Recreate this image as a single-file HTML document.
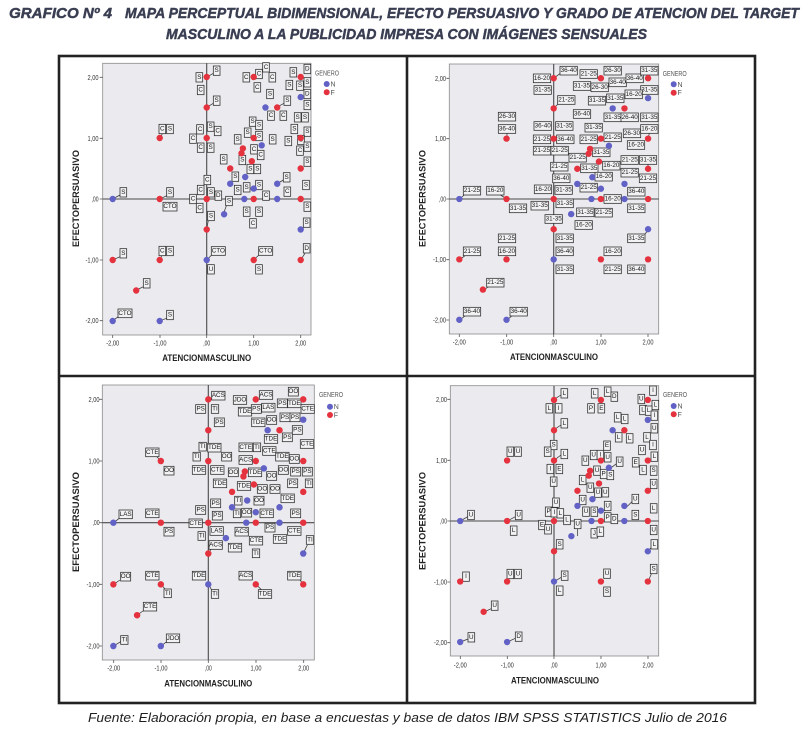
<!DOCTYPE html>
<html><head><meta charset="utf-8">
<style>
html,body{margin:0;padding:0;background:#fff;}
svg{display:block}
.lb text{font-family:"Liberation Sans",sans-serif;font-size:19px;fill:#1a1a1a;text-anchor:middle;dominant-baseline:central}
.tk{font-family:"Liberation Sans",sans-serif;font-size:7px;fill:#333}
.tkx{font-family:"Liberation Sans",sans-serif;font-size:7px;fill:#333;text-anchor:middle}
.tky{font-family:"Liberation Sans",sans-serif;font-size:7px;fill:#333;text-anchor:end}
.ax{font-family:"Liberation Sans",sans-serif;font-size:9px;font-weight:bold;fill:#222;text-anchor:middle}
.lg{font-family:"Liberation Sans",sans-serif;font-size:7px;fill:#555}
.ttl{font-family:"Liberation Sans",sans-serif;font-size:14.5px;font-weight:bold;font-style:italic;fill:#3a3e52;stroke:#3a3e52;stroke-width:0.45}
.pl{fill:#ebebef;stroke:#8a8a8a;stroke-width:0.8}
.ref{stroke:#4a4a4a;stroke-width:1.1;fill:none}
.tm{stroke:#555;stroke-width:0.8;fill:none}
.ld{stroke:#333;stroke-width:2.2;fill:none}
</style></head><body>
<svg width="807" height="741" viewBox="0 0 807 741" xmlns="http://www.w3.org/2000/svg" xmlns:xlink="http://www.w3.org/1999/xlink">
<defs>
<rect id="a" x="-10" y="-14" width="20" height="28" fill="#f2f2f4" stroke="#333" stroke-width="2.4"/>
<rect id="i" x="-11" y="-13" width="22" height="26" fill="#f2f2f4" stroke="#333" stroke-width="2.4"/>
<rect id="d" x="-15" y="-13" width="30" height="26" fill="#f2f2f4" stroke="#333" stroke-width="2.4"/>
<rect id="t" x="-20" y="-13" width="40" height="26" fill="#f2f2f4" stroke="#333" stroke-width="2.4"/>
<rect id="c" x="-21" y="-13" width="42" height="26" fill="#f2f2f4" stroke="#333" stroke-width="2.4"/>
<rect id="e" x="-26" y="-13" width="52" height="26" fill="#f2f2f4" stroke="#333" stroke-width="2.4"/>
<g id="pts">
<g fill="#6262c6">
<circle cx="-94" cy="0" r="3.2"/><circle cx="-94" cy="122" r="3.2"/><circle cx="-47" cy="122" r="3.2"/><circle cx="0" cy="61" r="3.2"/>
<circle cx="58.75" cy="-91.5" r="3.2"/><circle cx="94" cy="-101.9" r="3.2"/><circle cx="55" cy="-53.7" r="3.2"/><circle cx="38.5" cy="-22" r="3.2"/>
<circle cx="23.5" cy="-15.25" r="3.2"/><circle cx="47" cy="-10.4" r="3.2"/><circle cx="70.5" cy="-15.25" r="3.2"/><circle cx="17.4" cy="15.25" r="3.2"/>
<circle cx="37.6" cy="0" r="3.2"/><circle cx="70.5" cy="0" r="3.2"/><circle cx="94" cy="30.5" r="3.2"/>
</g>
<g fill="#e4323e">
<circle cx="-47" cy="0" r="3.2"/><circle cx="-47" cy="-61" r="3.2"/><circle cx="-94" cy="61" r="3.2"/><circle cx="-47" cy="61" r="3.2"/>
<circle cx="-70.5" cy="91.5" r="3.2"/><circle cx="0" cy="-122" r="3.2"/><circle cx="0" cy="-91.5" r="3.2"/><circle cx="0" cy="-61" r="3.2"/>
<circle cx="0" cy="0" r="3.2"/><circle cx="0" cy="30.5" r="3.2"/><circle cx="47" cy="-122" r="3.2"/><circle cx="70.5" cy="-91.5" r="3.2"/>
<circle cx="94" cy="-122" r="3.2"/><circle cx="47" cy="-61" r="3.2"/><circle cx="36.2" cy="-50.6" r="3.2"/><circle cx="34.8" cy="-45.75" r="3.2"/>
<circle cx="45.1" cy="-37.8" r="3.2"/><circle cx="23.5" cy="-30.5" r="3.2"/><circle cx="47" cy="0" r="3.2"/><circle cx="94" cy="0" r="3.2"/>
<circle cx="94" cy="-61" r="3.2"/><circle cx="94" cy="-30.5" r="3.2"/><circle cx="94" cy="61" r="3.2"/><circle cx="47" cy="61" r="3.2"/>
</g>
</g>
</defs>

<rect width="807" height="741" fill="#fff"/>

<!-- Title -->
<text class="ttl" x="9" y="18" textLength="103" lengthAdjust="spacingAndGlyphs">GRAFICO Nº 4</text>
<text class="ttl" x="125" y="18" textLength="674" lengthAdjust="spacingAndGlyphs">MAPA PERCEPTUAL BIDIMENSIONAL, EFECTO PERSUASIVO Y GRADO DE ATENCION DEL TARGET</text>
<text class="ttl" x="166" y="39" textLength="481" lengthAdjust="spacingAndGlyphs">MASCULINO A LA PUBLICIDAD IMPRESA CON IMÁGENES SENSUALES</text>

<!-- Frame -->
<rect x="59" y="56" width="696" height="647" fill="none" stroke="#222" stroke-width="2.6"/>
<line x1="407" y1="56" x2="407" y2="703" stroke="#222" stroke-width="2.6"/>
<line x1="59" y1="376" x2="755" y2="376" stroke="#222" stroke-width="2.6"/>

<!-- ================= PANEL 1 ================= -->
<rect class="pl" x="102.7" y="63.3" width="208.3" height="271.7"/>
<path class="ref" d="M206.7 63.3V335M102.7 199H311"/>
<path class="tm" d="M99.7 77.3h3M99.7 138.3h3M99.7 199h3M99.7 260h3M99.7 320.7h3M112.7 335v3M160 335v3M206.7 335v3M253.7 335v3M300.7 335v3"/>
<text class="tky" x="98.5" y="79.8" textLength="11" lengthAdjust="spacingAndGlyphs">2,00</text>
<text class="tky" x="98.5" y="140.8" textLength="11" lengthAdjust="spacingAndGlyphs">1,00</text>
<text class="tky" x="98.5" y="201.5" textLength="7" lengthAdjust="spacingAndGlyphs">,00</text>
<text class="tky" x="98.5" y="262.5" textLength="13" lengthAdjust="spacingAndGlyphs">-1,00</text>
<text class="tky" x="98.5" y="323.2" textLength="13" lengthAdjust="spacingAndGlyphs">-2,00</text>
<text class="tkx" x="112.7" y="345.5" textLength="13" lengthAdjust="spacingAndGlyphs">-2,00</text>
<text class="tkx" x="160" y="345.5" textLength="13" lengthAdjust="spacingAndGlyphs">-1,00</text>
<text class="tkx" x="206.7" y="345.5" textLength="7" lengthAdjust="spacingAndGlyphs">,00</text>
<text class="tkx" x="253.7" y="345.5" textLength="11" lengthAdjust="spacingAndGlyphs">1,00</text>
<text class="tkx" x="300.7" y="345.5" textLength="11" lengthAdjust="spacingAndGlyphs">2,00</text>
<text class="ax" x="206.7" y="361" textLength="89" lengthAdjust="spacingAndGlyphs">ATENCIONMASCULINO</text>
<text class="ax" transform="translate(79,198.5) rotate(-90)" x="0" y="0" textLength="97" lengthAdjust="spacingAndGlyphs">EFECTOPERSUASIVO</text>
<text class="lg" x="315" y="75.5" textLength="24" lengthAdjust="spacingAndGlyphs">GENERO</text>
<circle cx="326.7" cy="84" r="3" fill="#6262c6"/><text class="lg" x="330.5" y="86.5">N</text>
<circle cx="326.7" cy="92.3" r="3" fill="#e4323e"/><text class="lg" x="330.5" y="94.8">F</text>

<g class="lb" transform="translate(55,50) scale(0.33333)">
<path class="ld" d="M173 447L195 435M315 447L335 437M315 265L322 251M173 630L195 620M315 630L320 617M245 720L265 710M173 812L190 800M315 812L335 805M455 82L475 70M455 172L475 160M455 540L460 510M455 630L470 615M595 630L612 615M737 630L750 610M665 402L685 390M665 172L687 160M505 492L515 465M737 540L747 530"/>
<use href="#a" x="205" y="427"/><text x="205" y="427">S</text>
<use href="#a" x="345" y="427"/><text x="345" y="427">S</text>
<use href="#a" x="322" y="237"/><text x="322" y="237">C</text>
<use href="#a" x="345" y="237"/><text x="345" y="237">S</text>
<use href="#a" x="205" y="610"/><text x="205" y="610">S</text>
<use href="#a" x="322" y="603"/><text x="322" y="603">C</text>
<use href="#a" x="345" y="603"/><text x="345" y="603">S</text>
<use href="#a" x="275" y="700"/><text x="275" y="700">S</text>
<use href="#a" x="345" y="795"/><text x="345" y="795">S</text>
<use href="#a" x="485" y="62"/><text x="485" y="62">S</text>
<use href="#a" x="433" y="82"/><text x="433" y="82">S</text>
<use href="#a" x="437" y="120"/><text x="437" y="120">C</text>
<use href="#a" x="485" y="152"/><text x="485" y="152">S</text>
<use href="#a" x="435" y="238"/><text x="435" y="238">C</text>
<use href="#a" x="467" y="230"/><text x="467" y="230">S</text>
<use href="#a" x="488" y="243"/><text x="488" y="243">C</text>
<use href="#a" x="414" y="266"/><text x="414" y="266">C</text>
<use href="#a" x="437" y="293"/><text x="437" y="293">C</text>
<use href="#a" x="467" y="293"/><text x="467" y="293">S</text>
<use href="#a" x="457" y="390"/><text x="457" y="390">C</text>
<use href="#a" x="437" y="420"/><text x="437" y="420">C</text>
<use href="#a" x="468" y="427"/><text x="468" y="427">S</text>
<use href="#a" x="490" y="437"/><text x="490" y="437">D</text>
<use href="#a" x="414" y="447"/><text x="414" y="447">C</text>
<use href="#a" x="434" y="474"/><text x="434" y="474">C</text>
<use href="#a" x="468" y="498"/><text x="468" y="498">S</text>
<use href="#a" x="468" y="658"/><text x="468" y="658">U</text>
<use href="#a" x="574" y="82"/><text x="574" y="82">C</text>
<use href="#a" x="612" y="72"/><text x="612" y="72">C</text>
<use href="#a" x="633" y="52"/><text x="633" y="52">C</text>
<use href="#a" x="652" y="82"/><text x="652" y="82">C</text>
<use href="#a" x="607" y="112"/><text x="607" y="112">C</text>
<use href="#a" x="645" y="132"/><text x="645" y="132">S</text>
<use href="#a" x="697" y="152"/><text x="697" y="152">S</text>
<use href="#a" x="648" y="197"/><text x="648" y="197">C</text>
<use href="#a" x="685" y="197"/><text x="685" y="197">C</text>
<use href="#a" x="715" y="67"/><text x="715" y="67">S</text>
<use href="#a" x="757" y="57"/><text x="757" y="57">D</text>
<use href="#a" x="757" y="97"/><text x="757" y="97">S</text>
<use href="#a" x="703" y="105"/><text x="703" y="105">S</text>
<use href="#a" x="735" y="107"/><text x="735" y="107">S</text>
<use href="#a" x="757" y="132"/><text x="757" y="132">D</text>
<use href="#a" x="757" y="165"/><text x="757" y="165">S</text>
<use href="#a" x="728" y="202"/><text x="728" y="202">S</text>
<use href="#a" x="750" y="202"/><text x="750" y="202">S</text>
<use href="#a" x="593" y="215"/><text x="593" y="215">S</text>
<use href="#a" x="612" y="225"/><text x="612" y="225">S</text>
<use href="#a" x="578" y="248"/><text x="578" y="248">S</text>
<use href="#a" x="612" y="258"/><text x="612" y="258">S</text>
<use href="#a" x="548" y="268"/><text x="548" y="268">S</text>
<use href="#a" x="653" y="268"/><text x="653" y="268">S</text>
<use href="#a" x="597" y="298"/><text x="597" y="298">C</text>
<use href="#a" x="617" y="315"/><text x="617" y="315">C</text>
<use href="#a" x="562" y="330"/><text x="562" y="330">S</text>
<use href="#a" x="506" y="328"/><text x="506" y="328">S</text>
<use href="#a" x="586" y="357"/><text x="586" y="357">S</text>
<use href="#a" x="607" y="357"/><text x="607" y="357">S</text>
<use href="#a" x="718" y="237"/><text x="718" y="237">S</text>
<use href="#a" x="757" y="245"/><text x="757" y="245">S</text>
<use href="#a" x="700" y="273"/><text x="700" y="273">S</text>
<use href="#a" x="738" y="270"/><text x="738" y="270">S</text>
<use href="#a" x="757" y="290"/><text x="757" y="290">S</text>
<use href="#a" x="735" y="302"/><text x="735" y="302">C</text>
<use href="#a" x="757" y="335"/><text x="757" y="335">S</text>
<use href="#a" x="541" y="380"/><text x="541" y="380">S</text>
<use href="#a" x="548" y="420"/><text x="548" y="420">S</text>
<use href="#a" x="575" y="412"/><text x="575" y="412">S</text>
<use href="#a" x="612" y="405"/><text x="612" y="405">S</text>
<use href="#a" x="695" y="382"/><text x="695" y="382">S</text>
<use href="#a" x="697" y="425"/><text x="697" y="425">C</text>
<use href="#a" x="633" y="437"/><text x="633" y="437">C</text>
<use href="#a" x="575" y="485"/><text x="575" y="485">S</text>
<use href="#a" x="612" y="485"/><text x="612" y="485">S</text>
<use href="#a" x="594" y="520"/><text x="594" y="520">C</text>
<use href="#a" x="522" y="453"/><text x="522" y="453">S</text>
<use href="#a" x="753" y="405"/><text x="753" y="405">S</text>
<use href="#a" x="757" y="470"/><text x="757" y="470">S</text>
<use href="#a" x="755" y="518"/><text x="755" y="518">S</text>
<use href="#a" x="755" y="595"/><text x="755" y="595">D</text>
<use href="#a" x="612" y="658"/><text x="612" y="658">S</text>
<use href="#c" x="345" y="470"/><text x="345" y="470">CTO</text>
<use href="#c" x="210" y="790"/><text x="210" y="790">CTO</text>
<use href="#c" x="490" y="603"/><text x="490" y="603">CTO</text>
<use href="#c" x="632" y="603"/><text x="632" y="603">CTO</text>
</g>
<use href="#pts" transform="translate(206.7,199)"/>

<!-- ================= PANEL 2 ================= -->
<rect class="pl" x="449.3" y="64" width="209.4" height="270"/>
<path class="ref" d="M553.7 64V334M449.3 199H658.7"/>
<path class="tm" d="M446.3 78.3h3M446.3 138.7h3M446.3 199h3M446.3 259.7h3M446.3 320h3M459.3 334v3M506.7 334v3M553.7 334v3M601 334v3M648 334v3"/>
<text class="tky" x="446" y="80.8" textLength="11" lengthAdjust="spacingAndGlyphs">2,00</text>
<text class="tky" x="446" y="141.2" textLength="11" lengthAdjust="spacingAndGlyphs">1,00</text>
<text class="tky" x="446" y="201.5" textLength="7" lengthAdjust="spacingAndGlyphs">,00</text>
<text class="tky" x="446" y="262.2" textLength="13" lengthAdjust="spacingAndGlyphs">-1,00</text>
<text class="tky" x="446" y="322.5" textLength="13" lengthAdjust="spacingAndGlyphs">-2,00</text>
<text class="tkx" x="459.3" y="344.5" textLength="13" lengthAdjust="spacingAndGlyphs">-2,00</text>
<text class="tkx" x="506.7" y="344.5" textLength="13" lengthAdjust="spacingAndGlyphs">-1,00</text>
<text class="tkx" x="553.7" y="344.5" textLength="7" lengthAdjust="spacingAndGlyphs">,00</text>
<text class="tkx" x="601" y="344.5" textLength="11" lengthAdjust="spacingAndGlyphs">1,00</text>
<text class="tkx" x="648" y="344.5" textLength="11" lengthAdjust="spacingAndGlyphs">2,00</text>
<text class="ax" x="554" y="360" textLength="88" lengthAdjust="spacingAndGlyphs">ATENCIONMASCULINO</text>
<text class="ax" transform="translate(425.3,198.5) rotate(-90)" x="0" y="0" textLength="97" lengthAdjust="spacingAndGlyphs">EFECTOPERSUASIVO</text>
<text class="lg" x="662.7" y="75.8" textLength="24" lengthAdjust="spacingAndGlyphs">GENERO</text>
<circle cx="673.7" cy="84.3" r="3" fill="#6262c6"/><text class="lg" x="677.5" y="86.8">N</text>
<circle cx="673.7" cy="92.7" r="3" fill="#e4323e"/><text class="lg" x="677.5" y="95.2">F</text>

<g class="lb" transform="translate(407,50) scale(0.33333)">
<path class="ld" d="M158 447L175 432M300 447L280 435M300 266L300 250M158 629L178 614M230 720L248 708M158 810L178 795M300 810L318 795M440 85L460 70M440 175L455 160M723 540L712 555M723 266L727 250M723 356L723 343"/>
<use href="#e" x="195" y="422"/><text x="195" y="422">21-25</text>
<use href="#e" x="265" y="422"/><text x="265" y="422">16-20</text>
<use href="#e" x="333" y="475"/><text x="333" y="475">31-35</text>
<use href="#e" x="300" y="200"/><text x="300" y="200">26-30</text>
<use href="#e" x="300" y="237"/><text x="300" y="237">36-40</text>
<use href="#e" x="195" y="604"/><text x="195" y="604">21-25</text>
<use href="#e" x="300" y="565"/><text x="300" y="565">21-25</text>
<use href="#e" x="300" y="604"/><text x="300" y="604">16-20</text>
<use href="#e" x="265" y="698"/><text x="265" y="698">21-25</text>
<use href="#e" x="195" y="785"/><text x="195" y="785">36-40</text>
<use href="#e" x="335" y="785"/><text x="335" y="785">36-40</text>
<use href="#e" x="405" y="85"/><text x="405" y="85">16-20</text>
<use href="#e" x="485" y="62"/><text x="485" y="62">36-40</text>
<use href="#e" x="407" y="120"/><text x="407" y="120">31-35</text>
<use href="#e" x="478" y="150"/><text x="478" y="150">21-25</text>
<use href="#e" x="407" y="228"/><text x="407" y="228">36-40</text>
<use href="#e" x="472" y="228"/><text x="472" y="228">31-35</text>
<use href="#e" x="405" y="268"/><text x="405" y="268">21-25</text>
<use href="#e" x="475" y="268"/><text x="475" y="268">36-40</text>
<use href="#e" x="405" y="302"/><text x="405" y="302">21-25</text>
<use href="#e" x="458" y="302"/><text x="458" y="302">21-25</text>
<use href="#e" x="512" y="323"/><text x="512" y="323">21-25</text>
<use href="#e" x="457" y="350"/><text x="457" y="350">21-25</text>
<use href="#e" x="463" y="385"/><text x="463" y="385">36-40</text>
<use href="#e" x="408" y="418"/><text x="408" y="418">16-20</text>
<use href="#e" x="470" y="420"/><text x="470" y="420">31-35</text>
<use href="#e" x="398" y="467"/><text x="398" y="467">31-35</text>
<use href="#e" x="473" y="460"/><text x="473" y="460">31-35</text>
<use href="#e" x="440" y="507"/><text x="440" y="507">31-35</text>
<use href="#e" x="473" y="565"/><text x="473" y="565">31-35</text>
<use href="#e" x="473" y="604"/><text x="473" y="604">36-40</text>
<use href="#e" x="473" y="658"/><text x="473" y="658">31-35</text>
<use href="#e" x="545" y="72"/><text x="545" y="72">21-25</text>
<use href="#e" x="525" y="108"/><text x="525" y="108">31-35</text>
<use href="#e" x="578" y="112"/><text x="578" y="112">26-30</text>
<use href="#e" x="617" y="62"/><text x="617" y="62">26-30</text>
<use href="#e" x="632" y="97"/><text x="632" y="97">36-40</text>
<use href="#e" x="683" y="85"/><text x="683" y="85">36-40</text>
<use href="#e" x="727" y="62"/><text x="727" y="62">31-35</text>
<use href="#e" x="727" y="120"/><text x="727" y="120">31-35</text>
<use href="#e" x="570" y="152"/><text x="570" y="152">31-35</text>
<use href="#e" x="625" y="145"/><text x="625" y="145">31-35</text>
<use href="#e" x="680" y="133"/><text x="680" y="133">16-20</text>
<use href="#e" x="617" y="202"/><text x="617" y="202">31-35</text>
<use href="#e" x="668" y="202"/><text x="668" y="202">26-40</text>
<use href="#e" x="727" y="202"/><text x="727" y="202">31-35</text>
<use href="#e" x="525" y="192"/><text x="525" y="192">36-40</text>
<use href="#e" x="560" y="233"/><text x="560" y="233">31-35</text>
<use href="#e" x="545" y="268"/><text x="545" y="268">21-25</text>
<use href="#e" x="617" y="262"/><text x="617" y="262">21-25</text>
<use href="#e" x="583" y="307"/><text x="583" y="307">31-35</text>
<use href="#e" x="613" y="347"/><text x="613" y="347">16-20</text>
<use href="#e" x="547" y="355"/><text x="547" y="355">31-35</text>
<use href="#e" x="675" y="250"/><text x="675" y="250">26-30</text>
<use href="#e" x="727" y="237"/><text x="727" y="237">16-20</text>
<use href="#e" x="687" y="285"/><text x="687" y="285">16-20</text>
<use href="#e" x="668" y="330"/><text x="668" y="330">21-25</text>
<use href="#e" x="723" y="330"/><text x="723" y="330">31-35</text>
<use href="#e" x="668" y="368"/><text x="668" y="368">21-25</text>
<use href="#e" x="723" y="385"/><text x="723" y="385">21-25</text>
<use href="#e" x="590" y="380"/><text x="590" y="380">16-20</text>
<use href="#e" x="545" y="413"/><text x="545" y="413">21-25</text>
<use href="#e" x="688" y="425"/><text x="688" y="425">36-40</text>
<use href="#e" x="688" y="475"/><text x="688" y="475">31-35</text>
<use href="#e" x="617" y="447"/><text x="617" y="447">16-20</text>
<use href="#e" x="590" y="488"/><text x="590" y="488">21-25</text>
<use href="#e" x="535" y="487"/><text x="535" y="487">31-35</text>
<use href="#e" x="530" y="525"/><text x="530" y="525">16-20</text>
<use href="#e" x="688" y="565"/><text x="688" y="565">31-35</text>
<use href="#e" x="617" y="604"/><text x="617" y="604">16-20</text>
<use href="#e" x="617" y="658"/><text x="617" y="658">21-25</text>
<use href="#e" x="688" y="658"/><text x="688" y="658">36-40</text>
</g>
<use href="#pts" transform="translate(553.7,199) scale(1.004,0.99)"/>

<!-- ================= PANEL 3 ================= -->
<rect class="pl" x="102.3" y="385" width="212" height="275"/>
<path class="ref" d="M208.3 385V660M102.3 522.7H314.3"/>
<path class="tm" d="M99.3 399.3h3M99.3 461h3M99.3 522.7h3M99.3 584.3h3M99.3 646h3M113.7 660v3M161 660v3M208.3 660v3M256 660v3M303.7 660v3"/>
<text class="tky" x="99.5" y="401.8" textLength="11" lengthAdjust="spacingAndGlyphs">2,00</text>
<text class="tky" x="99.5" y="463.5" textLength="11" lengthAdjust="spacingAndGlyphs">1,00</text>
<text class="tky" x="99.5" y="525.2" textLength="7" lengthAdjust="spacingAndGlyphs">,00</text>
<text class="tky" x="99.5" y="586.8" textLength="13" lengthAdjust="spacingAndGlyphs">-1,00</text>
<text class="tky" x="99.5" y="648.5" textLength="13" lengthAdjust="spacingAndGlyphs">-2,00</text>
<text class="tkx" x="113.7" y="670.5" textLength="13" lengthAdjust="spacingAndGlyphs">-2,00</text>
<text class="tkx" x="161" y="670.5" textLength="13" lengthAdjust="spacingAndGlyphs">-1,00</text>
<text class="tkx" x="208.3" y="670.5" textLength="7" lengthAdjust="spacingAndGlyphs">,00</text>
<text class="tkx" x="256" y="670.5" textLength="11" lengthAdjust="spacingAndGlyphs">1,00</text>
<text class="tkx" x="303.7" y="670.5" textLength="11" lengthAdjust="spacingAndGlyphs">2,00</text>
<text class="ax" x="208.3" y="686.5" textLength="88" lengthAdjust="spacingAndGlyphs">ATENCIONMASCULINO</text>
<text class="ax" transform="translate(79,522) rotate(-90)" x="0" y="0" textLength="100" lengthAdjust="spacingAndGlyphs">EFECTOPERSUASIVO</text>
<text class="lg" x="319" y="396.8" textLength="24" lengthAdjust="spacingAndGlyphs">GENERO</text>
<circle cx="330" cy="406.7" r="3" fill="#6262c6"/><text class="lg" x="333.8" y="409.2">N</text>
<circle cx="330" cy="415" r="3" fill="#e4323e"/><text class="lg" x="333.8" y="417.5">F</text>

<g class="lb" transform="translate(55,375) scale(0.33333)">
<path class="ld" d="M176 443L195 428M318 258L305 245M176 628L195 615M318 628L330 642M247 720L268 705M176 813L197 800M318 813L335 800M460 73L470 70M460 535L470 520M460 628L470 645M745 535L757 510M603 628L620 645M745 628L735 615"/>
<use href="#t" x="212" y="418"/><text x="212" y="418">LAS</text>
<use href="#t" x="292" y="415"/><text x="292" y="415">CTE</text>
<use href="#d" x="342" y="470"/><text x="342" y="470">PS</text>
<use href="#t" x="292" y="232"/><text x="292" y="232">CTE</text>
<use href="#d" x="342" y="287"/><text x="342" y="287">OO</text>
<use href="#d" x="212" y="605"/><text x="212" y="605">OO</text>
<use href="#t" x="292" y="602"/><text x="292" y="602">CTE</text>
<use href="#i" x="338" y="655"/><text x="338" y="655">TI</text>
<use href="#t" x="285" y="695"/><text x="285" y="695">CTE</text>
<use href="#i" x="208" y="795"/><text x="208" y="795">TI</text>
<use href="#t" x="354" y="790"/><text x="354" y="790">JDO</text>
<use href="#t" x="490" y="62"/><text x="490" y="62">ACS</text>
<use href="#d" x="437" y="102"/><text x="437" y="102">PS</text>
<use href="#i" x="480" y="102"/><text x="480" y="102">TI</text>
<use href="#d" x="493" y="142"/><text x="493" y="142">PS</text>
<use href="#i" x="443" y="215"/><text x="443" y="215">TI</text>
<use href="#t" x="478" y="218"/><text x="478" y="218">TDE</text>
<use href="#i" x="425" y="245"/><text x="425" y="245">TI</text>
<use href="#d" x="515" y="245"/><text x="515" y="245">OO</text>
<use href="#t" x="432" y="285"/><text x="432" y="285">TDE</text>
<use href="#t" x="487" y="285"/><text x="487" y="285">CTE</text>
<use href="#d" x="482" y="385"/><text x="482" y="385">PS</text>
<use href="#d" x="437" y="405"/><text x="437" y="405">PS</text>
<use href="#d" x="487" y="422"/><text x="487" y="422">PS</text>
<use href="#t" x="422" y="445"/><text x="422" y="445">CTE</text>
<use href="#i" x="440" y="483"/><text x="440" y="483">TI</text>
<use href="#t" x="485" y="468"/><text x="485" y="468">LAS</text>
<use href="#t" x="482" y="510"/><text x="482" y="510">ACS</text>
<use href="#t" x="540" y="518"/><text x="540" y="518">TDE</text>
<use href="#t" x="432" y="602"/><text x="432" y="602">TDE</text>
<use href="#i" x="480" y="657"/><text x="480" y="657">TI</text>
<use href="#t" x="555" y="75"/><text x="555" y="75">JDO</text>
<use href="#t" x="633" y="60"/><text x="633" y="60">ACS</text>
<use href="#t" x="570" y="110"/><text x="570" y="110">TDE</text>
<use href="#d" x="604" y="102"/><text x="604" y="102">PS</text>
<use href="#t" x="640" y="98"/><text x="640" y="98">LAS</text>
<use href="#d" x="715" y="50"/><text x="715" y="50">OO</text>
<use href="#d" x="682" y="85"/><text x="682" y="85">PS</text>
<use href="#t" x="718" y="85"/><text x="718" y="85">TDE</text>
<use href="#t" x="758" y="102"/><text x="758" y="102">CTE</text>
<use href="#d" x="690" y="127"/><text x="690" y="127">PS</text>
<use href="#d" x="720" y="127"/><text x="720" y="127">PS</text>
<use href="#t" x="610" y="142"/><text x="610" y="142">TDE</text>
<use href="#d" x="650" y="135"/><text x="650" y="135">OO</text>
<use href="#t" x="648" y="192"/><text x="648" y="192">TDE</text>
<use href="#d" x="697" y="187"/><text x="697" y="187">PS</text>
<use href="#d" x="727" y="165"/><text x="727" y="165">PS</text>
<use href="#t" x="572" y="217"/><text x="572" y="217">CTE</text>
<use href="#i" x="606" y="217"/><text x="606" y="217">TI</text>
<use href="#t" x="643" y="228"/><text x="643" y="228">CTE</text>
<use href="#t" x="572" y="255"/><text x="572" y="255">ACS</text>
<use href="#t" x="682" y="245"/><text x="682" y="245">TDE</text>
<use href="#d" x="718" y="252"/><text x="718" y="252">OO</text>
<use href="#t" x="756" y="207"/><text x="756" y="207">CTE</text>
<use href="#d" x="535" y="292"/><text x="535" y="292">OO</text>
<use href="#t" x="600" y="292"/><text x="600" y="292">TDE</text>
<use href="#d" x="650" y="303"/><text x="650" y="303">OO</text>
<use href="#d" x="685" y="285"/><text x="685" y="285">OO</text>
<use href="#d" x="722" y="290"/><text x="722" y="290">PS</text>
<use href="#d" x="757" y="290"/><text x="757" y="290">PS</text>
<use href="#t" x="495" y="325"/><text x="495" y="325">TDE</text>
<use href="#t" x="567" y="333"/><text x="567" y="333">TDE</text>
<use href="#d" x="622" y="342"/><text x="622" y="342">OO</text>
<use href="#d" x="660" y="342"/><text x="660" y="342">OO</text>
<use href="#d" x="713" y="325"/><text x="713" y="325">PS</text>
<use href="#i" x="762" y="325"/><text x="762" y="325">TI</text>
<use href="#t" x="698" y="370"/><text x="698" y="370">TDE</text>
<use href="#i" x="550" y="377"/><text x="550" y="377">TI</text>
<use href="#d" x="612" y="377"/><text x="612" y="377">OO</text>
<use href="#i" x="546" y="415"/><text x="546" y="415">TI</text>
<use href="#d" x="575" y="413"/><text x="575" y="413">OO</text>
<use href="#t" x="635" y="415"/><text x="635" y="415">CTE</text>
<use href="#d" x="645" y="458"/><text x="645" y="458">PS</text>
<use href="#t" x="603" y="497"/><text x="603" y="497">CTE</text>
<use href="#i" x="603" y="535"/><text x="603" y="535">TI</text>
<use href="#t" x="560" y="470"/><text x="560" y="470">ACS</text>
<use href="#t" x="675" y="492"/><text x="675" y="492">TDE</text>
<use href="#t" x="718" y="468"/><text x="718" y="468">CTE</text>
<use href="#d" x="722" y="415"/><text x="722" y="415">PS</text>
<use href="#i" x="765" y="495"/><text x="765" y="495">TI</text>
<use href="#t" x="572" y="602"/><text x="572" y="602">ACS</text>
<use href="#t" x="630" y="657"/><text x="630" y="657">TDE</text>
<use href="#t" x="718" y="602"/><text x="718" y="602">TDE</text>
</g>
<use href="#pts" transform="translate(208.3,522.7) scale(1.01,1.011)"/>

<!-- ================= PANEL 4 ================= -->
<rect class="pl" x="450.3" y="385.7" width="208.4" height="270.3"/>
<path class="ref" d="M554 385.7V656M450.3 521H658.7"/>
<path class="tm" d="M447.3 399.3h3M447.3 460.3h3M447.3 521h3M447.3 582h3M447.3 642.7h3M460.3 656v3M507.3 656v3M554 656v3M601 656v3M648 656v3"/>
<text class="tky" x="447" y="401.8" textLength="11" lengthAdjust="spacingAndGlyphs">2,00</text>
<text class="tky" x="447" y="462.8" textLength="11" lengthAdjust="spacingAndGlyphs">1,00</text>
<text class="tky" x="447" y="523.5" textLength="7" lengthAdjust="spacingAndGlyphs">,00</text>
<text class="tky" x="447" y="584.5" textLength="13" lengthAdjust="spacingAndGlyphs">-1,00</text>
<text class="tky" x="447" y="645.2" textLength="13" lengthAdjust="spacingAndGlyphs">-2,00</text>
<text class="tkx" x="460.3" y="667.5" textLength="13" lengthAdjust="spacingAndGlyphs">-2,00</text>
<text class="tkx" x="507.3" y="667.5" textLength="13" lengthAdjust="spacingAndGlyphs">-1,00</text>
<text class="tkx" x="554" y="667.5" textLength="7" lengthAdjust="spacingAndGlyphs">,00</text>
<text class="tkx" x="601" y="667.5" textLength="11" lengthAdjust="spacingAndGlyphs">1,00</text>
<text class="tkx" x="648" y="667.5" textLength="11" lengthAdjust="spacingAndGlyphs">2,00</text>
<text class="ax" x="555" y="683.3" textLength="88" lengthAdjust="spacingAndGlyphs">ATENCIONMASCULINO</text>
<text class="ax" transform="translate(425.3,521) rotate(-90)" x="0" y="0" textLength="98" lengthAdjust="spacingAndGlyphs">EFECTOPERSUASIVO</text>
<text class="lg" x="663" y="396.8" textLength="24" lengthAdjust="spacingAndGlyphs">GENERO</text>
<circle cx="673.7" cy="406" r="3" fill="#6262c6"/><text class="lg" x="677.5" y="408.5">N</text>
<circle cx="673.7" cy="414.3" r="3" fill="#e4323e"/><text class="lg" x="677.5" y="416.8">F</text>

<g class="lb" transform="translate(407,375) scale(0.33333)">
<path class="ld" d="M160 438L182 425M301 438L325 425M160 620L170 610M301 620L305 610M231 711L255 700M160 801L183 792M301 801L325 790M441 73L462 60M441 164L462 150M441 529L450 515M441 620L463 607M723 529L735 515M723 620L733 597M653 402L675 380M512 483L512 460M441 256L462 240M610 280L630 265"/>
<use href="#a" x="192" y="420"/><text x="192" y="420">U</text>
<use href="#a" x="335" y="420"/><text x="335" y="420">U</text>
<use href="#a" x="320" y="467"/><text x="320" y="467">L</text>
<use href="#a" x="310" y="230"/><text x="310" y="230">U</text>
<use href="#a" x="333" y="230"/><text x="333" y="230">U</text>
<use href="#a" x="177" y="605"/><text x="177" y="605">I</text>
<use href="#a" x="310" y="597"/><text x="310" y="597">U</text>
<use href="#a" x="333" y="597"/><text x="333" y="597">U</text>
<use href="#a" x="263" y="692"/><text x="263" y="692">U</text>
<use href="#a" x="193" y="787"/><text x="193" y="787">U</text>
<use href="#a" x="335" y="785"/><text x="335" y="785">D</text>
<use href="#a" x="472" y="55"/><text x="472" y="55">L</text>
<use href="#a" x="427" y="100"/><text x="427" y="100">L</text>
<use href="#a" x="455" y="100"/><text x="455" y="100">I</text>
<use href="#a" x="472" y="145"/><text x="472" y="145">L</text>
<use href="#a" x="440" y="210"/><text x="440" y="210">S</text>
<use href="#a" x="422" y="230"/><text x="422" y="230">S</text>
<use href="#a" x="472" y="237"/><text x="472" y="237">L</text>
<use href="#a" x="430" y="282"/><text x="430" y="282">I</text>
<use href="#a" x="457" y="282"/><text x="457" y="282">E</text>
<use href="#a" x="440" y="320"/><text x="440" y="320">U</text>
<use href="#a" x="447" y="383"/><text x="447" y="383">U</text>
<use href="#a" x="425" y="410"/><text x="425" y="410">P</text>
<use href="#a" x="442" y="412"/><text x="442" y="412">I</text>
<use href="#a" x="460" y="415"/><text x="460" y="415">L</text>
<use href="#a" x="480" y="435"/><text x="480" y="435">L</text>
<use href="#a" x="405" y="450"/><text x="405" y="450">E</text>
<use href="#a" x="423" y="463"/><text x="423" y="463">U</text>
<use href="#a" x="458" y="508"/><text x="458" y="508">S</text>
<use href="#a" x="473" y="602"/><text x="473" y="602">S</text>
<use href="#a" x="458" y="647"/><text x="458" y="647">L</text>
<use href="#a" x="563" y="55"/><text x="563" y="55">L</text>
<use href="#a" x="602" y="50"/><text x="602" y="50">L</text>
<use href="#a" x="622" y="65"/><text x="622" y="65">D</text>
<use href="#a" x="552" y="100"/><text x="552" y="100">P</text>
<use href="#a" x="583" y="100"/><text x="583" y="100">E</text>
<use href="#a" x="632" y="127"/><text x="632" y="127">L</text>
<use href="#a" x="653" y="132"/><text x="653" y="132">L</text>
<use href="#a" x="635" y="187"/><text x="635" y="187">L</text>
<use href="#a" x="668" y="190"/><text x="668" y="190">L</text>
<use href="#a" x="738" y="47"/><text x="738" y="47">I</text>
<use href="#a" x="703" y="72"/><text x="703" y="72">U</text>
<use href="#a" x="745" y="90"/><text x="745" y="90">L</text>
<use href="#a" x="708" y="105"/><text x="708" y="105">L</text>
<use href="#a" x="725" y="107"/><text x="725" y="107">L</text>
<use href="#a" x="742" y="122"/><text x="742" y="122">I</text>
<use href="#a" x="742" y="160"/><text x="742" y="160">U</text>
<use href="#a" x="720" y="187"/><text x="720" y="187">L</text>
<use href="#a" x="738" y="210"/><text x="738" y="210">I</text>
<use href="#a" x="705" y="225"/><text x="705" y="225">U</text>
<use href="#a" x="742" y="245"/><text x="742" y="245">L</text>
<use href="#a" x="600" y="212"/><text x="600" y="212">E</text>
<use href="#a" x="580" y="240"/><text x="580" y="240">I</text>
<use href="#a" x="602" y="247"/><text x="602" y="247">U</text>
<use href="#a" x="560" y="240"/><text x="560" y="240">U</text>
<use href="#a" x="535" y="257"/><text x="535" y="257">U</text>
<use href="#a" x="570" y="287"/><text x="570" y="287">U</text>
<use href="#a" x="590" y="297"/><text x="590" y="297">P</text>
<use href="#a" x="610" y="300"/><text x="610" y="300">S</text>
<use href="#a" x="638" y="260"/><text x="638" y="260">U</text>
<use href="#a" x="686" y="262"/><text x="686" y="262">E</text>
<use href="#a" x="708" y="285"/><text x="708" y="285">L</text>
<use href="#a" x="740" y="287"/><text x="740" y="287">S</text>
<use href="#a" x="740" y="327"/><text x="740" y="327">U</text>
<use href="#a" x="527" y="315"/><text x="527" y="315">L</text>
<use href="#a" x="550" y="338"/><text x="550" y="338">U</text>
<use href="#a" x="573" y="353"/><text x="573" y="353">U</text>
<use href="#a" x="595" y="352"/><text x="595" y="352">U</text>
<use href="#a" x="527" y="375"/><text x="527" y="375">U</text>
<use href="#a" x="562" y="410"/><text x="562" y="410">S</text>
<use href="#a" x="537" y="410"/><text x="537" y="410">U</text>
<use href="#a" x="602" y="393"/><text x="602" y="393">U</text>
<use href="#a" x="602" y="427"/><text x="602" y="427">P</text>
<use href="#a" x="622" y="432"/><text x="622" y="432">D</text>
<use href="#a" x="685" y="372"/><text x="685" y="372">U</text>
<use href="#a" x="685" y="420"/><text x="685" y="420">S</text>
<use href="#a" x="562" y="475"/><text x="562" y="475">J</text>
<use href="#a" x="580" y="470"/><text x="580" y="470">L</text>
<use href="#a" x="512" y="447"/><text x="512" y="447">U</text>
<use href="#a" x="740" y="400"/><text x="740" y="400">L</text>
<use href="#a" x="740" y="465"/><text x="740" y="465">U</text>
<use href="#a" x="742" y="508"/><text x="742" y="508">L</text>
<use href="#a" x="740" y="582"/><text x="740" y="582">S</text>
<use href="#a" x="600" y="596"/><text x="600" y="596">U</text>
<use href="#a" x="600" y="650"/><text x="600" y="650">S</text>
</g>
<use href="#pts" transform="translate(554,521) scale(0.998,0.992)"/>

<!-- Footer -->
<text x="88" y="722" font-family="Liberation Sans, sans-serif" font-style="italic" font-size="13" fill="#1e1e1e" textLength="639" lengthAdjust="spacingAndGlyphs">Fuente: Elaboración propia, en base a encuestas y base de datos IBM SPSS STATISTICS Julio de 2016</text>
</svg>
</body></html>
